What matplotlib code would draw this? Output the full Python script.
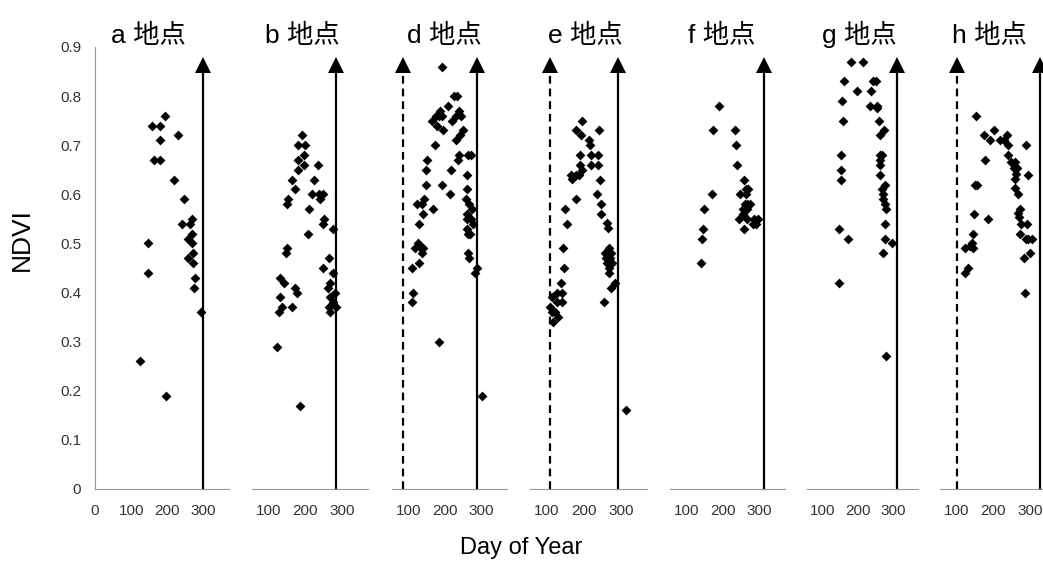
import matplotlib
matplotlib.use('Agg')
import matplotlib.pyplot as plt

plt.rcParams['font.family'] = ['Liberation Sans', 'Noto Sans CJK JP', 'DejaVu Sans']

# --- data ---
sites = ['a', 'b', 'd', 'e', 'f', 'g', 'h']

a_doy = [194, 157, 180, 180, 229, 163, 180, 219, 245, 239, 261, 268, 256, 267, 267, 270,
         256, 270, 275, 272, 294, 146, 146, 125, 197]
a_ndvi = [0.76, 0.74, 0.74, 0.71, 0.72, 0.67, 0.67, 0.63, 0.59, 0.54, 0.54, 0.55, 0.51, 0.52,
          0.50, 0.48, 0.47, 0.46, 0.43, 0.41, 0.36, 0.50, 0.44, 0.26, 0.19]

b_doy = [190, 181, 198, 196, 179, 196, 235, 179, 164, 223, 173, 217, 238, 247, 240, 154,
         149, 211, 250, 247, 274, 208, 150, 146, 263, 247, 275, 132, 143, 268, 262, 172,
         176, 281, 268, 131, 136, 164, 263, 282, 127, 267, 274, 123, 184]
b_ndvi = [0.72, 0.70, 0.70, 0.68, 0.67, 0.66, 0.66, 0.65, 0.63, 0.63, 0.61, 0.60, 0.60, 0.60,
          0.59, 0.59, 0.58, 0.57, 0.55, 0.54, 0.53, 0.52, 0.49, 0.48, 0.47, 0.45, 0.44, 0.43,
          0.42, 0.42, 0.41, 0.41, 0.40, 0.40, 0.39, 0.39, 0.37, 0.37, 0.37, 0.37, 0.36, 0.36,
          0.38, 0.29, 0.17]

d_doy = [191, 225, 232, 209, 187, 239, 183, 191, 244, 230, 164, 176, 219, 177, 194, 249,
         241, 230, 173, 239, 264, 271, 237, 150, 148, 216, 261, 148, 191, 260, 214, 168,
         144, 137, 123, 258, 267, 274, 139, 260, 261, 272, 276, 130, 261, 269, 264, 127,
         134, 119, 141, 136, 263, 267, 128, 110, 287, 283, 112, 109, 183, 302]
d_ndvi = [0.86, 0.80, 0.80, 0.78, 0.77, 0.77, 0.76, 0.76, 0.76, 0.76, 0.75, 0.76, 0.75, 0.74,
          0.73, 0.73, 0.72, 0.71, 0.70, 0.68, 0.68, 0.68, 0.67, 0.67, 0.65, 0.65, 0.64, 0.62,
          0.62, 0.61, 0.60, 0.57, 0.59, 0.58, 0.58, 0.59, 0.58, 0.57, 0.56, 0.56, 0.55, 0.55,
          0.54, 0.54, 0.53, 0.52, 0.52, 0.50, 0.49, 0.49, 0.49, 0.48, 0.48, 0.47, 0.46, 0.45,
          0.45, 0.44, 0.40, 0.38, 0.30, 0.19]

e_doy = [195, 179, 240, 193, 215, 217, 190, 220, 238, 190, 220, 238, 194, 188, 165, 172,
         179, 167, 244, 179, 236, 247, 247, 149, 154, 263, 266, 145, 147, 269, 266, 257,
         272, 260, 271, 263, 275, 267, 269, 285, 274, 253, 139, 127, 141, 113, 127, 141,
         109, 122, 131, 118, 113, 314]
e_ndvi = [0.75, 0.73, 0.73, 0.72, 0.71, 0.70, 0.68, 0.68, 0.68, 0.66, 0.66, 0.66, 0.65, 0.64,
          0.64, 0.636, 0.64, 0.632, 0.63, 0.59, 0.60, 0.58, 0.56, 0.57, 0.54, 0.542, 0.532,
          0.49, 0.45, 0.49, 0.48, 0.48, 0.48, 0.47, 0.47, 0.46, 0.46, 0.45, 0.44, 0.42, 0.41,
          0.38, 0.42, 0.40, 0.40, 0.39, 0.38, 0.38, 0.37, 0.36, 0.35, 0.34, 0.36, 0.16]

f_doy = [190, 174, 232, 235, 238, 258, 262, 270, 247, 263, 169, 267, 274, 260, 254, 267,
         254, 148, 245, 267, 285, 295, 291, 258, 283, 145, 142, 139]
f_ndvi = [0.78, 0.73, 0.73, 0.70, 0.66, 0.63, 0.61, 0.61, 0.60, 0.60, 0.60, 0.58, 0.58, 0.58,
          0.57, 0.57, 0.56, 0.57, 0.55, 0.55, 0.55, 0.55, 0.54, 0.53, 0.54, 0.53, 0.51, 0.46]

g_doy = [180, 213, 161, 243, 251, 196, 237, 155, 234, 253, 253, 260, 158, 274, 262, 152,
         262, 267, 262, 262, 152, 262, 152, 277, 268, 270, 272, 275, 279, 277, 147, 170,
         277, 295, 272, 145, 279]
g_ndvi = [0.87, 0.87, 0.83, 0.83, 0.83, 0.81, 0.81, 0.79, 0.78, 0.78, 0.775, 0.75, 0.75, 0.73,
          0.72, 0.68, 0.68, 0.68, 0.67, 0.66, 0.65, 0.64, 0.63, 0.62, 0.61, 0.60, 0.59, 0.58,
          0.57, 0.54, 0.53, 0.51, 0.51, 0.50, 0.48, 0.42, 0.27]

h_doy = [153, 201, 174, 192, 219, 230, 238, 241, 288, 239, 177, 247, 260, 256, 265, 261,
         294, 259, 260, 268, 150, 156, 272, 267, 269, 146, 185, 274, 290, 145, 272, 289,
         294, 305, 142, 137, 124, 145, 299, 282, 130, 123, 285]
h_ndvi = [0.76, 0.73, 0.72, 0.71, 0.71, 0.71, 0.72, 0.70, 0.70, 0.68, 0.67, 0.665, 0.665,
          0.653, 0.653, 0.642, 0.64, 0.632, 0.613, 0.60, 0.62, 0.62, 0.571, 0.563, 0.553,
          0.56, 0.55, 0.54, 0.54, 0.52, 0.52, 0.51, 0.51, 0.51, 0.50, 0.495, 0.49, 0.49,
          0.48, 0.47, 0.45, 0.44, 0.40]

doys = [a_doy, b_doy, d_doy, e_doy, f_doy, g_doy, h_doy]
ndvis = [a_ndvi, b_ndvi, d_ndvi, e_ndvi, f_ndvi, g_ndvi, h_ndvi]

# season end (solid arrow) and start (dashed arrow), day of year
end_doy = [299, 283, 287, 291, 313, 310, 326]
start_doy = [None, None, 85, 108, None, None, 101]

# --- layout (pixels in a 1043x565 canvas) ---
W, H = 1043, 565
panel_px = [(95, 229), (252, 368), (392, 507), (530, 647), (670, 785), (807, 918), (940, 1056)]
title_px = [148, 302, 444, 585, 722, 859, 989]
top_px, bot_px = 47, 489

fig = plt.figure(figsize=(W / 100, H / 100), dpi=100)

for i, s in enumerate(sites):
    l, r = panel_px[i]
    ax = fig.add_axes([l / W, 1 - bot_px / H, (r - l) / W, (bot_px - top_px) / H])
    ax.scatter(doys[i], ndvis[i], marker='D', s=25, color='black', linewidths=0, zorder=3)

    # arrows
    for x, ls in [(end_doy[i], '-'), (start_doy[i], (0, (3.5, 2.2)))]:
        if x is None:
            continue
        ax.plot([x, x], [0, 0.855], color='black', lw=1.6, ls=ls, clip_on=False, zorder=2)
        ax.plot(x, 0.864, marker='^', ms=11.5, color='black', mew=0, clip_on=False, zorder=2)

    if i == 0:
        ax.set_xlim(0, 370)
        ax.set_xticks([0, 100, 200, 300])
        ax.set_yticks([k / 10 for k in range(10)])
        ax.set_yticklabels(['0'] + ['%.1f' % (k / 10) for k in range(1, 10)])
        ax.spines['left'].set_color('#999999')
    else:
        ax.set_xlim(55, 370)
        ax.set_xticks([100, 200, 300])
        ax.set_yticks([])
        ax.spines['left'].set_visible(False)
    ax.set_ylim(0, 0.9)
    for sp in ['top', 'right']:
        ax.spines[sp].set_visible(False)
    ax.spines['bottom'].set_color('#999999')
    ax.tick_params(axis='x', length=0, pad=11, labelsize=11, labelcolor='#333333')
    ax.tick_params(axis='y', length=0, pad=10, labelsize=11, labelcolor='#333333')
    ax.patch.set_alpha(0)

    fig.text(title_px[i] / W, 1 - 43 / H, s + ' 地点', ha='center', va='baseline',
             fontsize=19, color='black')

fig.text(22 / W, 1 - 240 / H, 'NDVI', rotation=90, ha='center', va='center', fontsize=19)
fig.text(521 / W, 1 - 548 / H, 'Day of Year', ha='center', va='center', fontsize=17)

fig.savefig('out.png', dpi=100)
